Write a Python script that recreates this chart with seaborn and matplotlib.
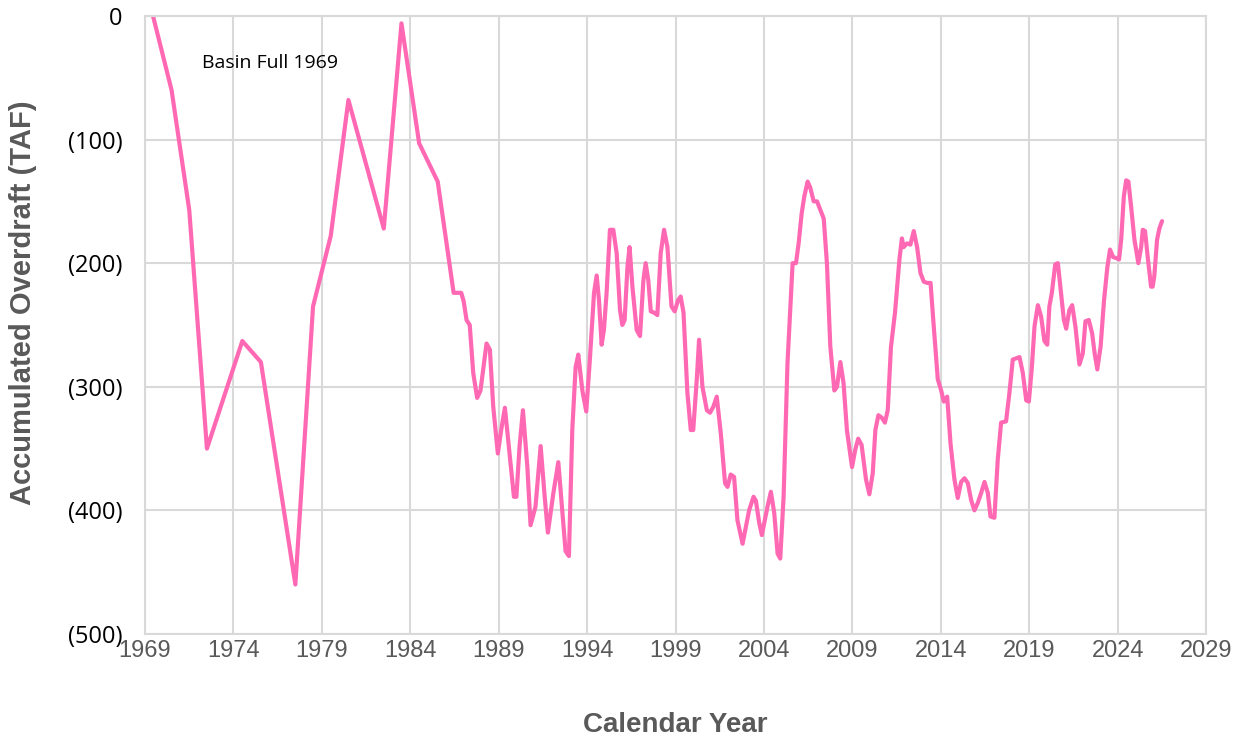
import matplotlib
matplotlib.use("Agg")
import matplotlib.pyplot as plt
from matplotlib import font_manager
from matplotlib.ticker import MultipleLocator, FuncFormatter
import pandas as pd
import seaborn as sns

# early record: one reading per year
years_early = [1969.45, 1970.5, 1971.5, 1972.5, 1974.5, 1975.55, 1977.5, 1978.5,
               1979.5, 1980.5, 1982.5, 1983.5, 1984.5, 1985.55, 1986.45]
overdraft_early = [0, -60, -157, -350, -263, -280, -460, -235,
                   -178, -68, -172, -6, -103, -134, -224]

# later record: several readings per year
years_late = [
    1986.88, 1987.02, 1987.18, 1987.36, 1987.56, 1987.78, 1987.97, 1988.12, 1988.31, 1988.5,
    1988.69, 1988.95, 1989.14, 1989.35, 1989.57, 1989.86, 1990.0, 1990.18, 1990.37, 1990.62,
    1990.8, 1991.08, 1991.37, 1991.6, 1991.78, 1992.09, 1992.37, 1992.6, 1992.78, 1992.97,
    1993.16, 1993.35, 1993.5, 1993.73, 1993.95, 1994.14, 1994.39, 1994.54, 1994.67, 1994.82,
    1994.95, 1995.1, 1995.29, 1995.48, 1995.67, 1995.86, 1995.99, 1996.12, 1996.28, 1996.4,
    1996.56, 1996.8, 1996.99, 1997.18, 1997.31, 1997.46, 1997.6, 1997.78, 1997.97, 1998.16,
    1998.35, 1998.54, 1998.77, 1998.95, 1999.14, 1999.29, 1999.45, 1999.67, 1999.86, 2000.0,
    2000.2, 2000.33, 2000.52, 2000.77, 2000.95, 2001.14, 2001.33, 2001.56, 2001.8, 2001.94,
    2002.12, 2002.31, 2002.5, 2002.79, 2002.98, 2003.16, 2003.41, 2003.54, 2003.73, 2003.88,
    2004.05, 2004.2, 2004.39, 2004.58, 2004.77, 2004.92, 2005.11, 2005.33, 2005.52, 2005.62,
    2005.81, 2005.96, 2006.13, 2006.28, 2006.47, 2006.62, 2006.81, 2007.0, 2007.19, 2007.38,
    2007.56, 2007.75, 2007.98, 2008.13, 2008.32, 2008.5, 2008.69, 2008.98, 2009.16, 2009.33,
    2009.52, 2009.77, 2009.96, 2010.15, 2010.3, 2010.47, 2010.66, 2010.84, 2011.0, 2011.18,
    2011.41, 2011.66, 2011.8, 2011.9, 2012.09, 2012.28, 2012.47, 2012.66, 2012.85, 2013.04,
    2013.23, 2013.42, 2013.6, 2013.83, 2014.02, 2014.17, 2014.36, 2014.55, 2014.77, 2014.96,
    2015.15, 2015.34, 2015.53, 2015.72, 2015.9, 2016.09, 2016.28, 2016.47, 2016.66, 2016.81,
    2017.03, 2017.22, 2017.41, 2017.69, 2017.88, 2018.07, 2018.26, 2018.45, 2018.64, 2018.83,
    2018.98, 2019.15, 2019.3, 2019.49, 2019.67, 2019.86, 2020.02, 2020.14, 2020.28, 2020.47,
    2020.62, 2020.76, 2020.96, 2021.09, 2021.27, 2021.43, 2021.61, 2021.84, 2022.03, 2022.18,
    2022.37, 2022.56, 2022.7, 2022.85, 2023.04, 2023.23, 2023.42, 2023.57, 2023.74, 2023.93,
    2024.08, 2024.2, 2024.35, 2024.48, 2024.61, 2024.76, 2024.95, 2025.17, 2025.33, 2025.42,
    2025.55, 2025.7, 2025.89, 2025.98, 2026.07, 2026.23, 2026.36, 2026.51,
]
overdraft_late = [
    -224, -231, -246, -250, -289, -309, -303, -286, -265, -270,
    -316, -354, -335, -317, -348, -389, -389, -348, -319, -365,
    -412, -397, -348, -389, -418, -386, -361, -402, -433, -437,
    -335, -284, -274, -303, -320, -281, -224, -210, -230, -266,
    -254, -224, -173, -173, -192, -238, -250, -246, -203, -187,
    -219, -254, -259, -214, -200, -214, -239, -240, -242, -192,
    -173, -187, -235, -239, -230, -227, -240, -305, -335, -335,
    -294, -262, -300, -319, -321, -316, -308, -338, -378, -381,
    -371, -373, -408, -427, -413, -400, -389, -392, -410, -420,
    -408, -397, -385, -402, -435, -439, -389, -281, -227, -200,
    -200, -184, -160, -146, -134, -139, -150, -150, -157, -164,
    -200, -267, -303, -300, -280, -297, -335, -365, -351, -342,
    -347, -375, -387, -370, -335, -323, -325, -329, -319, -268,
    -240, -197, -180, -187, -184, -185, -174, -187, -208, -215,
    -216, -216, -251, -294, -303, -312, -308, -346, -375, -390,
    -377, -374, -378, -392, -400, -394, -386, -377, -386, -405,
    -406, -359, -329, -328, -305, -278, -277, -276, -289, -311,
    -312, -284, -251, -234, -243, -263, -266, -235, -224, -201,
    -200, -219, -246, -253, -238, -234, -251, -282, -273, -247,
    -246, -257, -273, -286, -267, -230, -203, -189, -195, -196,
    -197, -181, -146, -133, -134, -154, -181, -200, -187, -173,
    -174, -195, -219, -219, -211, -181, -172, -166,
]

x_ticks = list(range(1969, 2030, 5))
note_text = "Basin Full 1969"

df = pd.DataFrame({
    "year": years_early + years_late,
    "overdraft": overdraft_early + overdraft_late,
})

sns.set_style("white")
plt.rcParams["font.family"] = ["Open Sans", "DejaVu Sans"]


def has_font(name):
    try:
        font_manager.findfont(name, fallback_to_default=False)
        return True
    except Exception:
        return False


# x tick labels in the original are tall and narrow
if has_font("Liberation Sans Narrow"):
    xtick_family, xtick_size = "Liberation Sans Narrow", 19
else:
    xtick_family, xtick_size = "Liberation Sans", 17

grid_col = "#D9D9D9"
text_gray = "#595959"

fig = plt.figure(figsize=(12.44, 7.42), dpi=100)
ax = fig.add_axes([0.1166, 0.1456, 0.8529, 0.8329])

sns.lineplot(data=df, x="year", y="overdraft", sort=False, estimator=None,
             color="#FF69B4", linewidth=3.0, ax=ax)
ax.lines[0].set_solid_joinstyle("round")

ax.set_xlim(1969, 2029)
ax.set_ylim(-500, 0)
ax.set_xticks(x_ticks)
ax.xaxis.set_minor_locator(MultipleLocator(1))
ax.yaxis.set_major_locator(MultipleLocator(100))
ax.yaxis.set_minor_locator(MultipleLocator(25))
ax.yaxis.set_major_formatter(FuncFormatter(
    lambda v, p: "0" if round(v) == 0 else f"({abs(v):.0f})"))

ax.grid(True, which="major", color=grid_col, linewidth=1.5)
for s in ax.spines.values():
    s.set_color(grid_col)
    s.set_linewidth(1.5)

ax.tick_params(axis="y", which="major", direction="out", length=7, width=1.5,
               color=grid_col, labelsize=17, labelcolor="black", pad=9)
ax.tick_params(axis="y", which="minor", direction="out", length=7, width=1.2,
               color=grid_col)
ax.tick_params(axis="x", which="major", length=0, pad=4, labelcolor=text_gray)
ax.tick_params(axis="x", which="minor", direction="in", length=4, width=1.2,
               color=grid_col)
for lab in ax.get_xticklabels():
    lab.set_family([xtick_family, "DejaVu Sans"])
    lab.set_fontsize(xtick_size)

ax.set_xlabel("Calendar Year", fontsize=20, fontweight="bold", color=text_gray,
              family=["Liberation Sans", "DejaVu Sans"])
ax.xaxis.set_label_coords(0.5, -0.147)
ax.xaxis.label.set_va("center")
ax.set_ylabel("Accumulated Overdraft (TAF)", fontsize=21, fontweight="bold",
              color=text_gray, family=["Liberation Sans", "DejaVu Sans"])
ax.yaxis.set_label_coords(-0.115, 0.536)
ax.yaxis.label.set_va("center")

ax.text(1972.22, -38, note_text, fontsize=14, color="black", va="center", ha="left")

fig.savefig("out.png", dpi=100)
